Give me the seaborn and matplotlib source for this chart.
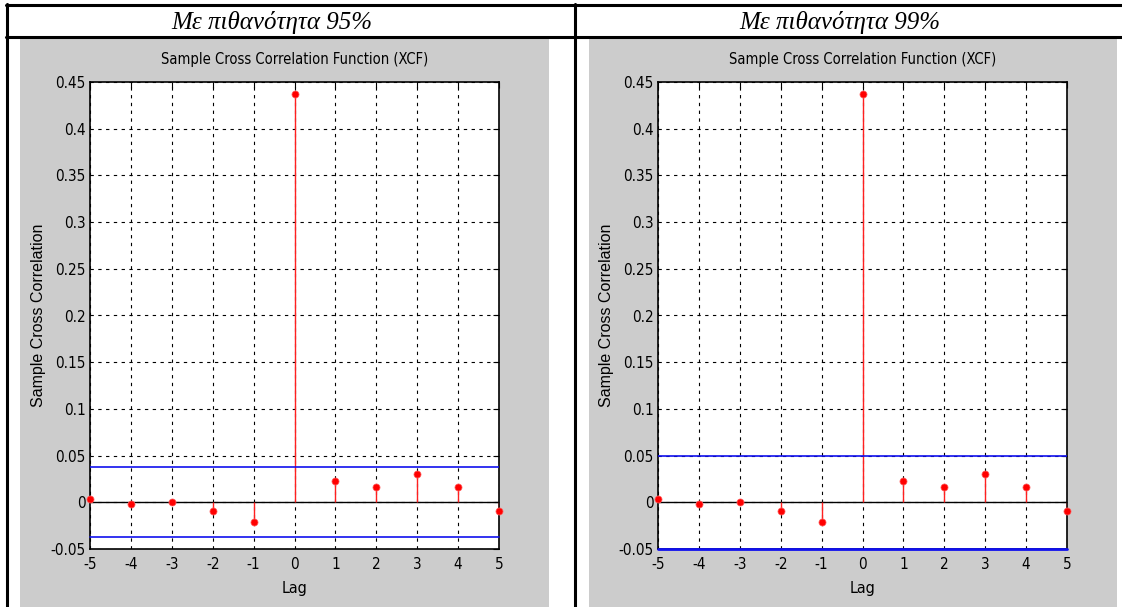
import matplotlib
matplotlib.use("Agg")
import matplotlib.pyplot as plt
import seaborn as sns
import numpy as np
import pandas as pd
from matplotlib.patches import Rectangle
from matplotlib.lines import Line2D

# ---- data ----
lags = [-5, -4, -3, -2, -1, 0, 1, 2, 3, 4, 5]
xcf = [0.003, -0.002, 0.000, -0.009, -0.021, 0.437, 0.023, 0.016, 0.030, 0.016, -0.009]
bounds = [0.0375, 0.0497]
headers = ["Με πιθανότητα 95%", "Με πιθανότητα 99%"]
title = "Sample Cross Correlation Function (XCF)"
ylabel = "Sample Cross Correlation"
xlabel = "Lag"
yticks = [-0.05, 0, 0.05, 0.1, 0.15, 0.2, 0.25, 0.3, 0.35, 0.4, 0.45]
ytick_labels = ["-0.05", "0", "0.05", "0.1", "0.15", "0.2", "0.25", "0.3", "0.35", "0.4", "0.45"]

sns.set_style("white")
plt.rcParams['font.family'] = ["DejaVu Sans"]
plt.rcParams['font.stretch'] = "condensed"
plt.rcParams['text.color'] = "black"
plt.rcParams['axes.labelcolor'] = "black"

W, H = 1122, 607
fig = plt.figure(figsize=(W / 100, H / 100), dpi=100)
fig.patch.set_facecolor("white")

def fx(px):
    return px / W

def fy(py):
    return 1 - py / H

# gray figure panels
for x0, x1 in [(20, 549), (589, 1117)]:
    fig.patches.append(Rectangle((fx(x0), 0), fx(x1 - x0), fy(38), transform=fig.transFigure,
                                 facecolor="#cccccc", edgecolor="none", zorder=-5))

# table borders
lw = 2.2
fig.add_artist(Line2D([fx(6), 1], [fy(5), fy(5)], color="black", lw=lw, transform=fig.transFigure))
fig.add_artist(Line2D([fx(6), 1], [fy(37), fy(37)], color="black", lw=lw, transform=fig.transFigure))
fig.add_artist(Line2D([fx(7), fx(7)], [0, fy(4)], color="black", lw=lw, transform=fig.transFigure))
fig.add_artist(Line2D([fx(575), fx(575)], [0, fy(4)], color="black", lw=lw, transform=fig.transFigure))

header_x = [272, 840]
for hx, txt in zip(header_x, headers):
    fig.text(fx(hx), fy(22), txt, ha="center", va="center", fontsize=18,
             family=["Liberation Serif", "DejaVu Serif"], style="italic", stretch="normal")

df = pd.DataFrame({"lag": lags, "xcf": xcf})

axes_left = [90, 658]
for i, (axl, b) in enumerate(zip(axes_left, bounds)):
    ax = fig.add_axes([fx(axl), fy(549), fx(409), (549 - 82) / H])
    ax.set_facecolor("white")
    ax.set_xlim(-5, 5)
    ax.set_ylim(-0.05, 0.45)
    ax.set_xticks(lags)
    ax.set_xticklabels([str(v) for v in lags])
    ax.set_yticks(yticks)
    ax.set_yticklabels(ytick_labels)
    ax.grid(True, color="black", linestyle=(0, (3, 4)), linewidth=0.8)
    ax.set_axisbelow(True)
    ax.axhline(0, color="black", lw=1.0, zorder=2)
    ax.vlines(df["lag"], 0, df["xcf"], color="#ff2020", lw=1.0, zorder=3)
    sns.scatterplot(data=df, x="lag", y="xcf", ax=ax, color="red", s=26,
                    edgecolor="#ff6060", linewidth=0.5, zorder=4, clip_on=False)
    ax.axhline(b, color="#1010ee", lw=1.2, zorder=3)
    ax.axhline(-b, color="#1010ee", lw=1.2 if i == 0 else 2.0, zorder=3, clip_on=False)
    for s in ax.spines.values():
        s.set_visible(True)
        s.set_color("black")
        s.set_linewidth(1.2)
    ax.tick_params(direction="in", length=4, width=0.8, top=True, right=True,
                   labelsize=11, pad=3, colors="black")
    ax.tick_params(axis="x", pad=6)
    ax.set_title(title, fontsize=10.5, pad=13, color="black")
    ax.set_xlabel(xlabel, fontsize=11.5, labelpad=6)
    ax.set_ylabel(ylabel, fontsize=11.5, labelpad=3,
                  family=["Liberation Sans", "DejaVu Sans"], stretch="normal")

fig.savefig("out.png", dpi=100)
